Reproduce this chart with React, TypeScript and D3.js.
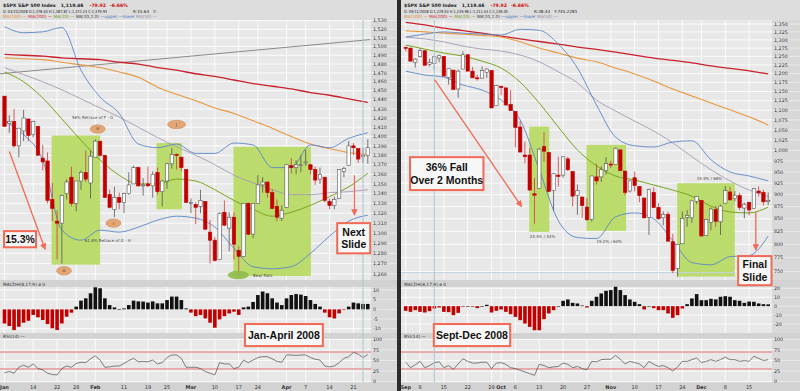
import React, { useRef, useEffect } from 'react';
import * as d3 from 'd3';

// ---------- Jan 4 .. Apr 24 2008 (left panel), one value per session ----------
const janOpen = [1444,1414,1416,1390,1406,1419,1402,1411,1377,1374,1334,1312,1310,1340,1357,1330,1353,1362,1351,1378,1395,1380,1339,1324,1336,1331,1340,1350,1367,1348,1350,1348,1362,1342,1353,1371,1381,1378,1365,1330,1329,1327,1332,1301,1293,1274,1321,1305,1316,1283,1277,1330,1299,1330,1349,1352,1341,1327,1315,1326,1369,1367,1369,1373,1370,1365,1355,1357,1332,1328,1335,1363,1369,1390,1387,1379,1380];
const janHigh = [1444,1423,1430,1409,1429,1419,1417,1411,1391,1383,1351,1323,1339,1355,1368,1353,1364,1385,1385,1397,1395,1380,1344,1347,1341,1341,1362,1369,1368,1356,1368,1363,1367,1354,1372,1388,1382,1378,1365,1335,1331,1344,1332,1313,1296,1321,1333,1321,1321,1287,1330,1331,1330,1359,1357,1352,1345,1334,1328,1370,1377,1375,1380,1386,1370,1368,1367,1357,1335,1337,1365,1368,1395,1393,1387,1388,1397];
const janLow = [1411,1404,1388,1378,1395,1395,1399,1380,1364,1330,1312,1274,1270,1334,1327,1322,1344,1352,1335,1378,1379,1336,1325,1316,1324,1320,1339,1350,1347,1338,1347,1336,1339,1327,1345,1366,1365,1363,1331,1320,1309,1320,1303,1270,1272,1274,1307,1282,1274,1256,1277,1298,1295,1330,1341,1336,1324,1312,1312,1326,1361,1360,1362,1369,1360,1349,1350,1331,1324,1324,1335,1357,1369,1380,1372,1372,1371];
const janClose = [1411,1416,1390,1409,1420,1401,1416,1380,1373,1333,1325,1310,1338,1352,1330,1353,1362,1355,1379,1395,1380,1336,1326,1336,1331,1340,1349,1367,1348,1349,1348,1360,1342,1353,1371,1381,1380,1367,1331,1331,1326,1333,1304,1293,1273,1320,1308,1316,1289,1277,1330,1299,1330,1349,1352,1341,1325,1316,1323,1370,1367,1370,1370,1373,1365,1354,1360,1333,1328,1334,1365,1366,1390,1388,1376,1380,1388];

// overlays read every 4th session (0, 4, ... 76)
const janMa200 = [1491,1490,1489,1487,1486,1485,1482,1480,1476,1473,1469,1466,1462,1458,1455,1452,1448,1445,1441,1437];
const janMa100 = [1487,1486,1485,1482,1479,1476,1471,1465,1454,1446,1439,1431,1425,1417,1409,1400,1392,1387,1383,1381];
const janMa50 = [1476,1468,1460,1451,1441,1431,1421,1410,1399,1389,1380,1370,1359,1351,1344,1339,1339,1341,1342,1344];
const janMa20 = [1471,1460,1442,1419,1396,1375,1359,1350,1350,1355,1353,1344,1333,1324,1317,1321,1328,1337,1347,1361];
const janBbUpper = [1523,1516,1517,1522,1473,1443,1425,1392,1388,1392,1382,1382,1393,1391,1367,1367,1391,1388,1398,1404];
const janBbLower = [1417,1402,1375,1303,1293,1303,1301,1306,1313,1317,1315,1306,1285,1267,1265,1267,1280,1297,1312,1318];

const janMacdHist = [-7.3,-8.6,-10.7,-9.0,-6.9,-5.9,-2.9,-4.1,-5.5,-7.6,-9.8,-10.7,-7.3,-3.8,-1.7,1.4,4.5,5.7,8.3,11.4,10.9,5.7,2.2,1.0,0.2,0.5,2.2,4.5,4.1,4.0,3.5,4.1,3.1,3.1,4.8,6.6,6.6,4.8,0.5,-1.7,-3.5,-2.9,-4.7,-6.9,-9.5,-5.2,-3.5,-2.1,-1.2,-2.9,1.0,1.4,3.8,7.4,9.2,8.3,5.7,3.5,2.2,5.7,7.4,7.9,7.6,6.9,4.8,2.8,1.4,-1.7,-4.1,-4.7,-2.1,-0.3,1.4,3.5,3.1,2.8,2.8];
const janRsi = [21,24,20,34,39,34,42,31,28,20,17,16,31,37,34,43,46,45,54,61,51,34,35,37,37,43,50,55,47,48,47,51,42,45,57,63,63,55,34,34,34,31,24,20,16,45,42,42,31,34,51,45,51,57,59,59,54,48,46,63,63,62,63,63,57,53,51,37,35,37,45,55,59,69,65,57,64];

const janTickIdx = [0,6,11,15,19,25,30,34,39,44,49,53,59,63,68,73];
const janTickLabels = ['Jan','14','22','28','Feb','11','19','25','Mar','10','17','24','Apr','7','14','21'];

// ---------- Sep 3 .. Dec 19 2008 (right panel) ----------
const sepOpen = [1277,1275,1233,1249,1267,1227,1229,1245,1250,1189,1210,1157,1213,1255,1207,1188,1187,1204,1209,1113,1164,1160,1115,1097,1057,989,989,902,913,1009,995,909,943,943,980,951,899,895,874,849,939,939,953,968,967,1001,952,908,937,918,893,853,905,873,852,859,805,755,801,853,852,886,888,817,843,869,844,882,906,892,898,872,884,871,908,905,886];
const sepHigh = [1280,1275,1244,1274,1268,1243,1250,1255,1250,1214,1210,1211,1265,1256,1219,1197,1221,1215,1210,1168,1167,1160,1154,1097,1072,1021,1006,936,1006,1044,995,947,985,985,985,951,922,896,893,941,969,963,984,975,1007,1003,952,931,951,918,893,913,916,882,865,864,820,801,865,868,887,897,888,850,873,876,879,919,917,908,904,883,885,914,918,911,905];
const sepLow = [1265,1236,1217,1247,1224,1221,1212,1233,1192,1169,1155,1133,1213,1207,1188,1180,1187,1188,1106,1113,1140,1111,1098,1007,996,970,909,840,912,973,907,866,918,937,952,875,858,852,846,845,922,928,944,959,967,952,899,905,907,884,850,818,872,848,837,806,747,741,801,834,842,880,815,817,827,834,818,882,888,886,868,851,857,871,896,877,878];
const sepClose = [1275,1236,1242,1267,1224,1232,1249,1252,1193,1214,1156,1207,1255,1207,1188,1186,1209,1213,1106,1166,1161,1114,1099,1056,996,985,910,899,1003,998,907,946,940,985,955,897,909,877,848,941,930,955,969,966,1005,953,905,930,920,898,852,911,873,850,859,806,752,800,851,857,887,896,816,849,870,845,876,909,889,899,873,880,868,913,904,885,888];

const sepMa200 = [1355,1347,1337,1329,1321,1312,1303,1295,1287,1278,1271,1263,1254,1245,1238,1231,1222,1215,1208,1199];
const sepMa100 = [1328,1325,1321,1318,1314,1309,1294,1275,1260,1245,1234,1216,1199,1179,1157,1138,1119,1101,1083,1062];
const sepMa50 = [1309,1303,1294,1281,1272,1266,1254,1234,1205,1174,1127,1098,1072,1047,1018,985,955,930,910,897];
const sepMa20 = [1284,1272,1260,1251,1236,1216,1176,1119,1057,1001,964,941,932,921,910,897,876,864,862,874];
const sepBbUpper = [1309,1318,1325,1321,1318,1315,1333,1330,1287,1216,1114,1032,1011,1008,1020,1023,978,950,941,930];
const sepBbLower = [1207,1196,1190,1168,1154,1127,1075,955,846,813,811,854,862,850,807,766,762,777,779,816];

const sepMacdHist = [-5.2,-6.4,-4.5,-6.4,-7.1,-5.6,-2.6,-1.5,-6.4,-6.7,-10.1,-7.5,-0.7,0,-0.7,-2.2,0,1.5,-7.1,-5.2,-3.7,-6.4,-9.0,-12,-15.7,-19.5,-23.2,-27,-27,-14.6,-8.2,-4.5,0,6.0,7.5,3.7,3.0,0.7,-1.5,6.0,10.5,14.2,17.2,18,21.7,18,12.4,7.5,4.9,2.2,-3.7,0,-2.2,-4.5,-4.5,-8.2,-13.1,-10.1,-2.6,2.2,8.6,13.5,6.7,6.7,8.2,7.5,10.5,11.2,10.5,6.7,6.0,3.7,5.2,4.9,3.0,2.2,2.0];
const sepRsi = [46,33,40,48,33,38,45,47,33,38,29,42,54,48,44,44,46,46,31,44,45,41,33,31,27,23,19,15,41,38,33,35,36,44,41,33,36,31,28,48,47,52,53,53,62,53,42,48,45,42,33,48,41,36,38,33,25,35,48,48,52,56,45,48,52,48,52,58,52,52,48,50,48,60,55,50,52];

const sepTickIdx = [0,3,8,13,18,20,23,28,33,38,43,48,53,58,62,67,72];
const sepTickLabels = ['Sep','8','15','22','29','Oct','6','13','20','27','Nov','10','17','24','Dec','8','15'];

const sampleIdx = d3.range(0, 77, 4);
const rsiTicks = [100, 75, 50, 25, 0];

// annotations, in session index / price units
const janZones = [[9.85, 20, 1401, 1269], [31.8, 37.1, 1393, 1324], [47.9, 64.1, 1389, 1258]];
const sepZones = [[25.9, 30.1, 1058, 824], [37.9, 46.2, 1013, 826], [56.9, 69.0, 925, 741]];
const janPivots = [
  { i: 12.45, p: 1263, label: 'G', rx: 7.5 },
  { i: 19.5, p: 1408, label: 'H', rx: 7.5 },
  { i: 22.8, p: 1310, label: 'I', rx: 7.5 },
  { i: 36, p: 1413, label: 'J', rx: 9 },
];
const janNotes = [
  { i: 14.1, p: 1419, t: '56% Retrace of F - G' },
  { i: 16.8, p: 1291, t: '61.8% Retrace of G - H' },
  { i: 52, p: 1257, t: 'Bear Fails' },
];
const sepNotes = [
  { i: 26, p: 812, t: '24.3% / 43%' },
  { i: 40, p: 803, t: '19.2% / 60%' },
  { i: 61, p: 931, t: '19.3% / 66%' },
];
const janArrows = [[1.0, 1384, 8.5, 1284], [73.2, 1359, 73.2, 1318]];
const sepArrows = [[6.1, 1182, 24.3, 875], [73.4, 864, 73.4, 789]];
const janBoxes = [
  { i0: -0.1, i1: 6.6, p0: 1302, p1: 1286, lines: ['15.3%'] },
  { i0: 69.6, i1: 76.5, p0: 1310, p1: 1280, lines: ['Next', 'Slide'] },
];
const sepBoxes = [
  { i0: 0.9, i1: 16.3, p0: 984, p1: 910, lines: ['36% Fall', 'Over 2 Months'] },
  { i0: 69.7, i1: 76.7, p0: 778, p1: 726, lines: ['Final', 'Slide'] },
];

const RED = '#c20000';
const ANNO = '#f06a56';
const PLOT_W = 371;
const FONT = 'DejaVu Sans, Verdana, sans-serif';

const janPanel = {
  id: 'jan', left: 0, width: 397, xRange: [4.5, 367.8],
  open: janOpen, high: janHigh, low: janLow, close: janClose,
  priceDomain: [1260, 1530], priceRange: [273.9, 20.7], priceTicks: d3.range(1260, 1531, 10),
  overlays: [
    [janMa200, '#c8202c', 1.3], [janMa100, '#e8983c', 1.1], [janMa50, '#a898b4', 0.9],
    [janMa20, '#78a41e', 1], [janBbUpper, '#5b86c6', 0.9], [janBbLower, '#5b86c6', 0.9],
  ],
  trend: [[-0.94, 1469], [76.5, 1508]],
  macd: janMacdHist, macdDomain: [-10, 10], macdRange: [328.7, 290], macdTicks: [10, 5, 0, -5, -10],
  rsi: janRsi, tickIdx: janTickIdx, tickLabels: janTickLabels, crossIdx: 75,
  zones: janZones, pivots: janPivots, bear: { i: 48.9, p: 1259 }, notes: janNotes,
  arrows: janArrows, boxes: janBoxes,
  period: { i0: 50.3, i1: 66.6, text: 'Jan-April 2008' },
  dateLine: 'D: 04/23/2008 O:1,378.40 H:1,387.87 L:1,372.24 C:1,379.93', rLine: 'R:15.63', yLine: 'Y:',
};

const sepPanel = {
  id: 'sep', left: 401, width: 399, xRange: [4.7, 367.2],
  open: sepOpen, high: sepHigh, low: sepLow, close: sepClose,
  priceDomain: [750, 1350], priceRange: [271.5, 24], priceTicks: d3.range(750, 1351, 25),
  overlays: [
    [sepMa200, '#c8202c', 1.3], [sepMa100, '#e8983c', 1.1], [sepMa50, '#a898b4', 0.9],
    [sepMa20, '#78a41e', 1], [sepBbUpper, '#5b86c6', 0.9], [sepBbLower, '#5b86c6', 0.9],
  ],
  support: [[-1, 748], [69, 748]],
  macd: sepMacdHist, macdDomain: [-20, 20], macdRange: [324, 288.3], macdTicks: [20, 10, 0, -10, -20],
  rsi: sepRsi, tickIdx: sepTickIdx, tickLabels: sepTickLabels, crossIdx: 6,
  zones: sepZones, pivots: [], bear: null, notes: sepNotes,
  arrows: sepArrows, boxes: sepBoxes,
  period: { i0: 5.9, i1: 21.9, text: 'Sept-Dec 2008' },
  dateLine: 'D: 09/11/2008 O:1,229.04 H:1,249.98 L:1,211.54 C:1,249.05', rLine: 'R:38.44', yLine: 'Y:745.2281',
};

function drawBox(g: any, x0: number, y0: number, x1: number, y1: number, lines: string[], size: number) {
  g.append('rect')
    .attr('x', x0).attr('y', y0).attr('width', x1 - x0).attr('height', y1 - y0)
    .attr('fill', '#f7f7f7').attr('stroke', ANNO).attr('stroke-width', 2);
  const cy = (y0 + y1) / 2;
  const lh = size * 1.2;
  lines.forEach((t, k) => {
    g.append('text')
      .attr('x', (x0 + x1) / 2)
      .attr('y', cy + (k - (lines.length - 1) / 2) * lh + size * 0.36)
      .attr('text-anchor', 'middle')
      .attr('font-family', 'Liberation Sans, Arial, sans-serif')
      .attr('font-weight', 'bold')
      .attr('font-size', size)
      .attr('fill', '#111')
      .text(t);
  });
}

function drawPanel(svg: any, c: any) {
  const W = c.width;
  const g = svg.append('g').attr('transform', `translate(${c.left},0)`);
  const x = d3.scaleLinear().domain([0, 76]).range(c.xRange);
  const y = d3.scaleLog().domain(c.priceDomain).range(c.priceRange);
  const ym = d3.scaleLinear().domain(c.macdDomain).range(c.macdRange);
  const yr = d3.scaleLinear().domain([0, 100]).range([381.7, 339.3]);
  const fmt = d3.format(',');

  // backgrounds
  g.append('rect').attr('width', W).attr('height', 391).attr('fill', '#e8e8e8');
  g.append('rect').attr('width', W).attr('height', 20).attr('fill', '#dddddd');
  g.append('rect').attr('x', PLOT_W).attr('y', 20).attr('width', W - PLOT_W).attr('height', 362).attr('fill', '#d8d8d8');
  [[280, 7], [333, 6], [382, 9]].forEach(([top, h]) =>
    g.append('rect').attr('y', top).attr('width', W).attr('height', h).attr('fill', '#d2d2d2'));

  // vertical grid at the date ticks
  const bands = [[20, 280], [287, 333], [339, 382]];
  c.tickIdx.forEach((i: number) => bands.forEach(([a, b]) =>
    g.append('line').attr('x1', x(i)).attr('x2', x(i)).attr('y1', a).attr('y2', b)
      .attr('stroke', '#fbfbfb').attr('stroke-width', 1)));

  // horizontal grids + axis labels
  const hGrid = (yy: number, label: string) => {
    g.append('line').attr('x1', 0).attr('x2', PLOT_W).attr('y1', yy).attr('y2', yy).attr('stroke', '#fbfbfb');
    g.append('line').attr('x1', PLOT_W).attr('x2', W).attr('y1', yy).attr('y2', yy).attr('stroke', '#e9e9e9');
    g.append('text').attr('x', PLOT_W + 2).attr('y', yy + 1.7)
      .attr('font-family', FONT).attr('font-size', 4.8).attr('fill', '#333').text(label);
  };
  c.priceTicks.forEach((p: number) => hGrid(y(p), fmt(p)));
  c.macdTicks.forEach((v: number) => hGrid(ym(v), String(v)));
  rsiTicks.forEach((v: number) => hGrid(yr(v), String(v)));

  // green zones (drawn under lines and candles)
  c.zones.forEach(([i0, i1, p0, p1]: number[]) =>
    g.append('rect').attr('x', x(i0)).attr('y', y(p0)).attr('width', x(i1) - x(i0)).attr('height', y(p1) - y(p0))
      .attr('fill', '#b6da62').attr('opacity', 0.92));

  const clipId = `clip-${c.id}`;
  g.append('clipPath').attr('id', clipId).append('rect').attr('x', 0).attr('y', 20).attr('width', PLOT_W).attr('height', 260);
  const price = g.append('g').attr('clip-path', `url(#${clipId})`);

  const seg = d3.line<number[]>().x(d => x(d[0])).y(d => y(d[1]));
  if (c.trend) price.append('path').attr('d', seg(c.trend)).attr('stroke', '#8a8a8a').attr('stroke-width', 1).attr('fill', 'none');
  if (c.support) price.append('path').attr('d', seg(c.support)).attr('stroke', '#c3d2de').attr('stroke-width', 1).attr('fill', 'none');

  const lineGen = d3.line<number>()
    .x((_, k) => x(sampleIdx[k]))
    .y(v => y(v))
    .curve(d3.curveMonotoneX);
  c.overlays.forEach(([vals, color, w]: any) =>
    price.append('path').attr('d', lineGen(vals)).attr('fill', 'none').attr('stroke', color).attr('stroke-width', w));

  // candles
  c.open.forEach((o: number, i: number) => {
    const cl = c.close[i];
    const prev = i > 0 ? c.close[i - 1] : o;
    const col = cl < prev ? RED : '#222';
    const filled = cl < o;
    const cx = x(i);
    price.append('line').attr('x1', cx).attr('x2', cx).attr('y1', y(c.high[i])).attr('y2', y(c.low[i]))
      .attr('stroke', col === RED ? '#d23a3a' : '#555').attr('stroke-width', 0.8);
    const top = y(Math.max(o, cl));
    const h = Math.max(1, Math.abs(y(o) - y(cl)));
    price.append('rect').attr('x', cx - 1.7).attr('y', top).attr('width', 3.4).attr('height', h)
      .attr('fill', filled ? col : '#fff')
      .attr('stroke', filled ? col : (col === RED ? RED : '#555')).attr('stroke-width', 0.6);
  });

  // MACD histogram
  c.macd.forEach((v: number, i: number) => {
    const y0 = ym(0);
    const y1 = ym(v);
    g.append('rect').attr('x', x(i) - 1.8).attr('y', Math.min(y0, y1)).attr('width', 3.6)
      .attr('height', Math.max(0.6, Math.abs(y1 - y0)))
      .attr('fill', v < 0 ? RED : '#111');
  });

  // RSI with 70 / 30 guides
  [70, 30].forEach(v =>
    g.append('line').attr('x1', 0).attr('x2', PLOT_W).attr('y1', yr(v)).attr('y2', yr(v))
      .attr('stroke', '#e27272').attr('stroke-width', 1));
  const rsiLine = d3.line<number>().x((_, i) => x(i)).y(v => yr(v));
  g.append('path').attr('d', rsiLine(c.rsi)).attr('fill', 'none').attr('stroke', '#4a4a4a').attr('stroke-width', 0.7);

  // crosshair
  g.append('line').attr('x1', x(c.crossIdx)).attr('x2', x(c.crossIdx)).attr('y1', 20).attr('y2', 382)
    .attr('stroke', '#a9c7cf').attr('stroke-width', 1);

  // date axis
  c.tickIdx.forEach((i: number, k: number) => {
    const lab = c.tickLabels[k];
    g.append('text').attr('x', x(i)).attr('y', 388.5).attr('text-anchor', 'middle')
      .attr('font-family', FONT).attr('font-size', 5)
      .attr('font-weight', /[A-Z]/.test(lab) ? 'bold' : 'normal')
      .attr('fill', '#333').text(lab);
  });

  // sub panel titles
  g.append('text').attr('x', 3).attr('y', 285.5).attr('font-family', FONT).attr('font-size', 4.4)
    .attr('fill', '#333').text('MACDH(8,17,9) ø 0');
  g.append('text').attr('x', 3).attr('y', 338).attr('font-family', FONT).attr('font-size', 4.4)
    .attr('fill', '#333').text('RSI(14) —');

  // pivots and notes
  c.pivots.forEach((d: any) => {
    g.append('ellipse').attr('cx', x(d.i)).attr('cy', y(d.p)).attr('rx', d.rx).attr('ry', 4.2)
      .attr('fill', '#e2a676').attr('stroke', '#c98452').attr('stroke-width', 0.5);
    g.append('text').attr('x', x(d.i)).attr('y', y(d.p) + 1.4).attr('text-anchor', 'middle')
      .attr('font-family', FONT).attr('font-size', 4).attr('fill', '#5a3a20').text(d.label);
  });
  if (c.bear) {
    g.append('ellipse').attr('cx', x(c.bear.i)).attr('cy', y(c.bear.p)).attr('rx', 10.5).attr('ry', 4.3)
      .attr('fill', '#8fbb4a').attr('opacity', 0.9);
  }
  c.notes.forEach((d: any) =>
    g.append('text').attr('x', x(d.i)).attr('y', y(d.p)).attr('font-family', FONT).attr('font-size', 4)
      .attr('fill', '#444').text(d.t));

  // arrows
  c.arrows.forEach(([i0, p0, i1, p1]: number[]) =>
    g.append('line').attr('x1', x(i0)).attr('y1', y(p0)).attr('x2', x(i1)).attr('y2', y(p1))
      .attr('stroke', ANNO).attr('stroke-width', 1.3).attr('marker-end', 'url(#arrowHead)'));

  // call-out boxes
  c.boxes.forEach((b: any) => drawBox(g, x(b.i0), y(b.p0), x(b.i1), y(b.p1), b.lines, 10.5));
  drawBox(g, x(c.period.i0), yr(136), x(c.period.i1), yr(84), [c.period.text], 10.5);

  // header
  const head = g.append('text').attr('x', 3).attr('y', 6.5).attr('font-family', FONT).attr('font-size', 4.6).attr('font-weight', 'bold');
  head.append('tspan').attr('fill', '#222').text('$SPX S&P 500 Index');
  head.append('tspan').attr('dx', 5).attr('fill', '#222').text('1,119.46');
  head.append('tspan').attr('dx', 6).attr('fill', '#d01010').text('-79.92');
  head.append('tspan').attr('dx', 4).attr('fill', '#d01010').text('-6.66%');
  g.append('text').attr('x', 3).attr('y', 12.8).attr('font-family', FONT).attr('font-size', 4.2)
    .attr('textLength', 104).attr('lengthAdjust', 'spacingAndGlyphs')
    .attr('fill', '#222').text(c.dateLine);
  g.append('text').attr('x', 133).attr('y', 12.8).attr('font-family', FONT).attr('font-size', 4.2)
    .attr('fill', '#222').text(c.rLine);
  g.append('text').attr('x', 153).attr('y', 12.8).attr('font-family', FONT).attr('font-size', 4.2)
    .attr('fill', '#222').text(c.yLine);
  const legend = g.append('text').attr('x', 3).attr('y', 18).attr('font-family', FONT).attr('font-size', 4.3);
  [
    ['MA(100) —', '#e08a2c'], [' MA(200) —', '#c8202c'], [' MA(20) —', '#6e9a18'],
    [' BB(20,2.0)', '#444'], [' —upper', '#4a78bc'], [' —lower', '#4a78bc'], [' MA(50) —', '#9a88a8'],
  ].forEach(([t, col]) => legend.append('tspan').attr('fill', col).text(t));
}

export default function App() {
  const svgRef = useRef<SVGSVGElement>(null);

  useEffect(() => {
    const svg = d3.select(svgRef.current);
    svg.selectAll('*').remove();

    svg.append('defs').append('marker')
      .attr('id', 'arrowHead')
      .attr('viewBox', '0 0 10 10')
      .attr('refX', 9).attr('refY', 5)
      .attr('markerWidth', 5).attr('markerHeight', 5)
      .attr('orient', 'auto')
      .append('path').attr('d', 'M0,0 L10,5 L0,10 Z').attr('fill', ANNO);

    drawPanel(svg, janPanel);
    drawPanel(svg, sepPanel);

    // dark divider between the two charts
    svg.append('rect').attr('x', 397).attr('y', 0).attr('width', 4).attr('height', 391).attr('fill', '#2c2c2c');
  }, []);

  return (
    <div style={{ position: 'absolute', left: 0, top: 0 }}>
      <svg ref={svgRef} width={800} height={391} style={{ display: 'block' }} />
    </div>
  );
}
